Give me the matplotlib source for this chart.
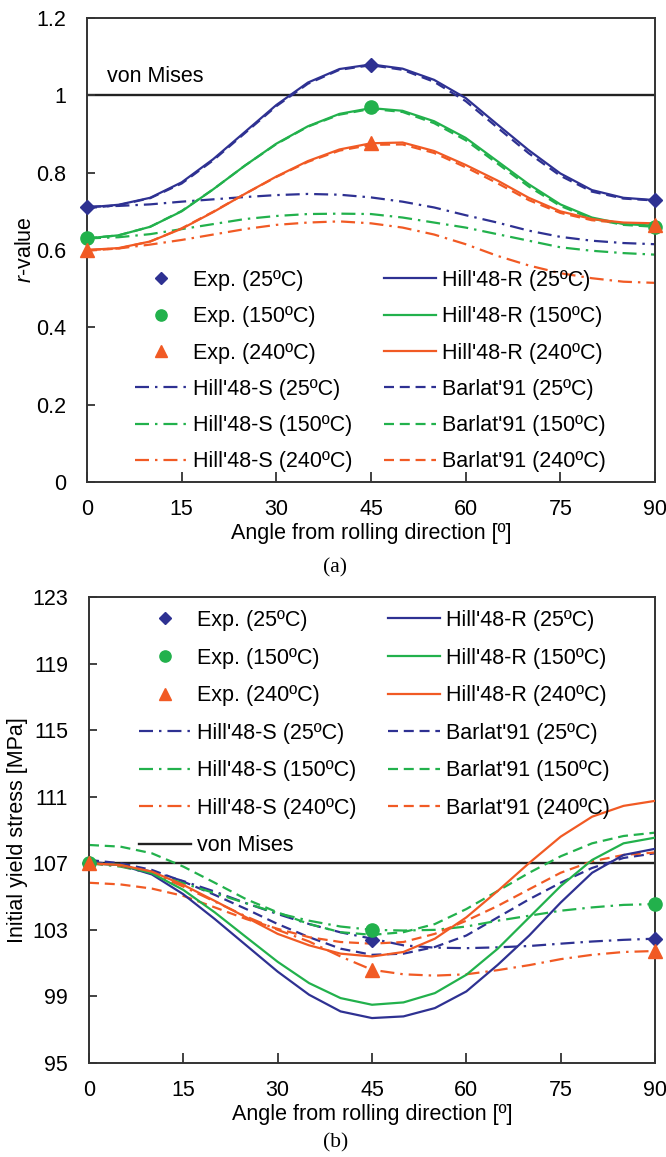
import matplotlib
matplotlib.use("Agg")
import matplotlib.pyplot as plt
from matplotlib.lines import Line2D

plt.rcParams['font.family'] = ['Liberation Sans', 'DejaVu Sans']
plt.rcParams['mathtext.fontset'] = 'custom'
plt.rcParams['mathtext.it'] = 'Liberation Sans:italic'
plt.rcParams['mathtext.rm'] = 'Liberation Sans'

# angles (deg) for model curves, exp. angles
ANG = [0, 5, 10, 15, 20, 25, 30, 35, 40, 45, 50, 55, 60, 65, 70, 75, 80, 85, 90]
EXP_ANG = [0, 45, 90]

# --- (a) r-values ---
r_exp_25 = [0.71, 1.079, 0.73]
r_exp_150 = [0.63, 0.969, 0.66]
r_exp_240 = [0.60, 0.877, 0.665]

r_hillR_25 = [0.710, 0.717, 0.735, 0.775, 0.835, 0.905, 0.975, 1.033, 1.068, 1.080,
              1.069, 1.040, 0.993, 0.925, 0.858, 0.798, 0.755, 0.735, 0.729]
r_hillR_150 = [0.630, 0.638, 0.660, 0.700, 0.757, 0.818, 0.875, 0.920, 0.952, 0.967,
               0.960, 0.933, 0.890, 0.830, 0.770, 0.718, 0.684, 0.667, 0.663]
r_hillR_240 = [0.600, 0.605, 0.622, 0.655, 0.698, 0.745, 0.790, 0.830, 0.860, 0.876,
               0.878, 0.856, 0.820, 0.780, 0.735, 0.700, 0.680, 0.671, 0.669]

r_hillS_25 = [0.712, 0.714, 0.718, 0.725, 0.731, 0.737, 0.742, 0.745, 0.743, 0.736,
              0.725, 0.710, 0.690, 0.671, 0.650, 0.634, 0.624, 0.618, 0.615]
r_hillS_150 = [0.630, 0.633, 0.641, 0.654, 0.667, 0.680, 0.688, 0.693, 0.694, 0.693,
               0.684, 0.671, 0.658, 0.641, 0.624, 0.607, 0.598, 0.592, 0.588]
r_hillS_240 = [0.600, 0.604, 0.614, 0.626, 0.640, 0.654, 0.665, 0.671, 0.674, 0.669,
               0.658, 0.640, 0.615, 0.585, 0.560, 0.540, 0.527, 0.518, 0.515]

r_barlat_25 = [0.708, 0.716, 0.734, 0.772, 0.832, 0.902, 0.972, 1.030, 1.066, 1.078,
               1.066, 1.035, 0.985, 0.917, 0.850, 0.792, 0.751, 0.733, 0.728]
r_barlat_150 = [0.630, 0.638, 0.660, 0.701, 0.757, 0.818, 0.874, 0.919, 0.950, 0.965,
                0.957, 0.928, 0.884, 0.824, 0.764, 0.714, 0.681, 0.665, 0.660]
r_barlat_240 = [0.598, 0.604, 0.622, 0.656, 0.699, 0.745, 0.789, 0.828, 0.857, 0.872,
                0.873, 0.851, 0.814, 0.773, 0.729, 0.696, 0.677, 0.669, 0.667]
r_vonmises = 1.0

# --- (b) initial yield stress [MPa] ---
s_exp_25 = [107.0, 102.4, 102.47]
s_exp_150 = [107.0, 103.0, 104.55]
s_exp_240 = [107.0, 100.6, 101.7]

s_hillR_25 = [107.0, 106.9, 106.33, 105.14, 103.65, 102.07, 100.49, 99.1, 98.1, 97.7,
              97.8, 98.3, 99.3, 100.9, 102.66, 104.64, 106.43, 107.5, 107.87]
s_hillR_150 = [107.0, 106.9, 106.4, 105.4, 104.05, 102.56, 101.08, 99.8, 98.9, 98.5,
               98.64, 99.2, 100.3, 101.87, 103.75, 105.63, 107.2, 108.2, 108.54]
s_hillR_240 = [107.0, 106.9, 106.5, 105.7, 104.74, 103.75, 102.76, 102.07, 101.57, 101.4,
               101.67, 102.47, 103.75, 105.34, 107.02, 108.6, 109.8, 110.45, 110.75]

s_hillS_25 = [107.1, 106.9, 106.5, 105.93, 105.3, 104.6, 103.95, 103.35, 102.85, 102.47,
              102.07, 101.93, 101.9, 101.95, 102.03, 102.17, 102.3, 102.4, 102.47]
s_hillS_150 = [107.0, 106.8, 106.4, 105.8, 105.2, 104.6, 104.0, 103.55, 103.2, 103.0,
               102.96, 103.0, 103.2, 103.55, 103.85, 104.15, 104.35, 104.5, 104.55]
s_hillS_240 = [107.0, 106.85, 106.4, 105.6, 104.7, 103.8, 103.0, 102.3, 101.4, 100.6,
               100.33, 100.25, 100.33, 100.58, 100.88, 101.24, 101.5, 101.67, 101.73]

s_barlat_25 = [107.2, 107.0, 106.6, 105.9, 105.1, 104.25, 103.35, 102.56, 101.87, 101.5,
               101.57, 101.97, 102.66, 103.75, 104.84, 105.83, 106.72, 107.32, 107.6]
s_barlat_150 = [108.1, 108.0, 107.6, 106.8, 105.83, 104.84, 104.05, 103.35, 102.86, 102.7,
                102.86, 103.35, 104.25, 105.34, 106.43, 107.42, 108.2, 108.64, 108.84]
s_barlat_240 = [105.83, 105.73, 105.48, 105.04, 104.35, 103.65, 103.06, 102.56, 102.27, 102.17,
                102.27, 102.76, 103.55, 104.44, 105.44, 106.43, 107.12, 107.5, 107.65]
s_vonmises = 107.0

temps = ['25ºC', '150ºC', '240ºC']
colors = ['#2E3192', '#22B14C', '#F15A24']
markers = ['D', 'o', '^']
msizes = [7, 9.5, 9.5]

DASHDOT = (0, (6.3, 2.7, 1.1, 2.7))
DASHED = (0, (4.5, 2.6))
LW = 1.6
FS = 15.5
SPINE = '#333333'


def style_axes(ax, ylim, yticks, ylabels):
    ax.set_xlim(0, 90)
    ax.set_ylim(*ylim)
    ax.set_xticks([0, 15, 30, 45, 60, 75, 90])
    ax.set_yticks(yticks)
    ax.set_yticklabels(ylabels)
    ax.tick_params(axis='x', direction='in', length=7, width=1.3, pad=12,
                   labelsize=FS, color=SPINE)
    ax.tick_params(axis='y', direction='in', length=6, width=1.3, pad=15,
                   labelsize=FS, color=SPINE)
    for sp in ax.spines.values():
        sp.set_linewidth(1.4)
        sp.set_color(SPINE)
    ax.set_xlabel('Angle from rolling direction [º]', fontsize=FS)


def draw_panel(ax, exps, hillR, hillS, barlat, vm):
    exp_h, r_h, s_h, b_h = [], [], [], []
    for i in range(3):
        c = colors[i]
        ax.plot(ANG, hillS[i], color=c, lw=LW, ls=DASHDOT, zorder=2)
        ax.plot(ANG, barlat[i], color=c, lw=LW, ls=DASHED, zorder=2)
        ax.plot(ANG, hillR[i], color=c, lw=LW, zorder=3)
        ax.plot(EXP_ANG, exps[i], ls='none', marker=markers[i], ms=msizes[i],
                color=c, zorder=5, clip_on=False)
        exp_h.append(Line2D([], [], ls='none', marker=markers[i], ms=msizes[i] * 0.85,
                            color=c, label='Exp. (%s)' % temps[i]))
        r_h.append(Line2D([], [], color=c, lw=LW, label="Hill'48-R (%s)" % temps[i]))
        s_h.append(Line2D([], [], color=c, lw=LW, ls=DASHDOT, label="Hill'48-S (%s)" % temps[i]))
        b_h.append(Line2D([], [], color=c, lw=LW, ls=DASHED, label="Barlat'91 (%s)" % temps[i]))
    ax.axhline(vm, color='#222222', lw=1.7, zorder=1)
    return exp_h, r_h, s_h, b_h


def add_legend(ax, handles, top_px, left_px, spacing):
    ax.legend(handles=handles, ncol=2, frameon=False, fontsize=FS,
              loc='upper left', bbox_to_anchor=(left_px / W, 1 - top_px / H),
              bbox_transform=fig.transFigure, borderpad=0, borderaxespad=0,
              handlelength=2.4, handletextpad=0.28, columnspacing=1.5,
              labelspacing=spacing)


fig = plt.figure(figsize=(6.66, 11.57), dpi=100)
W, H = 666.0, 1157.0

# (a) r-value
ax1 = fig.add_axes([87 / W, 1 - 482 / H, 568 / W, 464 / H])
style_axes(ax1, (0, 1.2), [0, 0.2, 0.4, 0.6, 0.8, 1.0, 1.2],
           ['0', '0.2', '0.4', '0.6', '0.8', '1', '1.2'])
e, r, s, b = draw_panel(ax1,
                        [r_exp_25, r_exp_150, r_exp_240],
                        [r_hillR_25, r_hillR_150, r_hillR_240],
                        [r_hillS_25, r_hillS_150, r_hillS_240],
                        [r_barlat_25, r_barlat_150, r_barlat_240],
                        r_vonmises)
ax1.text(3.2, 1.05, 'von Mises', fontsize=FS, va='center', ha='left')
ax1.set_ylabel('$\\mathit{r}$-value', fontsize=FS)
ax1.yaxis.set_label_coords(-0.089, 0.5)
ax1.xaxis.set_label_coords(0.5, -0.088)
add_legend(ax1, e + s + r + b, 270, 135, 0.71)

# (b) initial yield stress
ax2 = fig.add_axes([89 / W, 1 - 1063 / H, 566 / W, 466 / H])
style_axes(ax2, (95, 123), [95, 99, 103, 107, 111, 115, 119, 123],
           ['95', '99', '103', '107', '111', '115', '119', '123'])
e, r, s, b = draw_panel(ax2,
                        [s_exp_25, s_exp_150, s_exp_240],
                        [s_hillR_25, s_hillR_150, s_hillR_240],
                        [s_hillS_25, s_hillS_150, s_hillS_240],
                        [s_barlat_25, s_barlat_150, s_barlat_240],
                        s_vonmises)
vm_h = Line2D([], [], color='#222222', lw=1.7, label='von Mises')
ax2.set_ylabel('Initial yield stress [MPa]', fontsize=FS)
ax2.yaxis.set_label_coords(-0.108, 0.5)
ax2.xaxis.set_label_coords(0.5, -0.088)
add_legend(ax2, e + s + [vm_h] + r + b, 610, 139, 0.77)

fig.text(335 / W, 1 - 568 / H, '(a)', family='Liberation Serif', fontsize=FS,
         ha='center', va='center')
fig.text(336 / W, 1 - 1143 / H, '(b)', family='Liberation Serif', fontsize=FS,
         ha='center', va='center')

fig.savefig('out.png', dpi=100)
